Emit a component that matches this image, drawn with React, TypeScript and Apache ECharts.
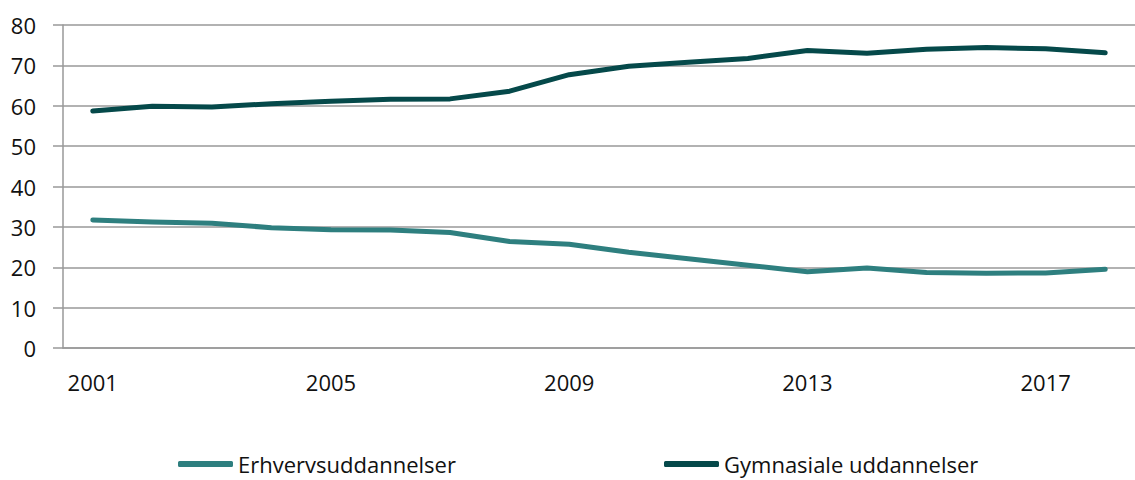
import React, { useEffect, useRef } from "react";
import * as echarts from "echarts";

const years = ["2001","2002","2003","2004","2005","2006","2007","2008","2009","2010","2011","2012","2013","2014","2015","2016","2017","2018"];
const erhverv = [31.7, 31.2, 30.9, 29.8, 29.3, 29.2, 28.6, 26.4, 25.7, 23.7, 22.1, 20.5, 18.9, 19.8, 18.7, 18.5, 18.6, 19.5];
const gymnasiale = [58.7, 59.9, 59.7, 60.5, 61.1, 61.6, 61.7, 63.6, 67.7, 69.8, 70.8, 71.7, 73.7, 73.0, 74.0, 74.4, 74.1, 73.1];
const seriesNames = ["Erhvervsuddannelser", "Gymnasiale uddannelser"];
const colors = ["#2E7F7F", "#05494A"];

const FONT = "'Open Sans', 'Noto Sans', sans-serif";
const FS = 22;

export default function App() {
  const ref = useRef<HTMLDivElement>(null);
  useEffect(() => {
    if (!ref.current) return;
    const chart = echarts.init(ref.current, null, { renderer: "svg" });
    const legendBase = {
      top: 453,
      padding: 0,
      icon: "roundRect",
      itemWidth: 55,
      itemHeight: 6,
      textStyle: { fontFamily: FONT, fontSize: FS, lineHeight: 22, color: "#111" },
    };
    chart.setOption({
      animation: false,
      textStyle: { fontFamily: FONT },
      grid: { left: 63, right: -11, top: 25, bottom: 132, containLabel: false },
      legend: [
        { ...legendBase, left: 178, data: [seriesNames[0]] },
        { ...legendBase, left: 664, data: [seriesNames[1]] },
      ],
      xAxis: {
        type: "category",
        data: years,
        boundaryGap: true,
        axisLine: { lineStyle: { color: "#999", width: 1.5 } },
        axisTick: { interval: 4, length: 8, lineStyle: { color: "#999", width: 1.5 } },
        axisLabel: { interval: 3, margin: 23, fontFamily: FONT, fontSize: FS, color: "#111" },
        splitLine: { show: false },
      },
      yAxis: {
        type: "value",
        min: 0,
        max: 80,
        interval: 10,
        axisLine: { show: true, lineStyle: { color: "#999", width: 1.5 } },
        axisTick: { show: true, length: 10, lineStyle: { color: "#999", width: 1.5 } },
        axisLabel: { margin: 27, fontFamily: FONT, fontSize: FS, color: "#111" },
        splitLine: { lineStyle: { color: "#999", width: 1.5 } },
      },
      series: [
        {
          name: seriesNames[0],
          type: "line",
          data: erhverv,
          symbol: "none",
          color: colors[0],
          lineStyle: { width: 5, color: colors[0], cap: "round", join: "round" },
        },
        {
          name: seriesNames[1],
          type: "line",
          data: gymnasiale,
          symbol: "none",
          color: colors[1],
          lineStyle: { width: 5, color: colors[1], cap: "round", join: "round" },
        },
      ],
    });
    return () => chart.dispose();
  }, []);
  return (
    <div
      ref={ref}
      style={{ position: "fixed", left: 0, top: 0, width: 1135, height: 480, overflow: "hidden", background: "#fff" }}
    />
  );
}
